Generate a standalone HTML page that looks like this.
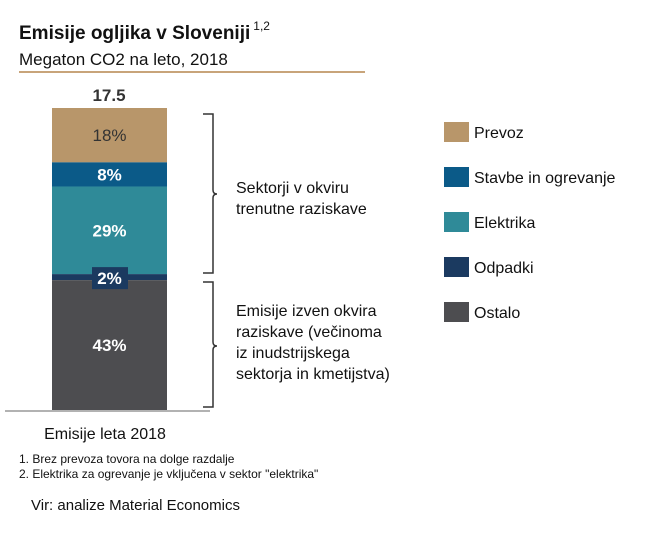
<!DOCTYPE html>
<html><head><meta charset="utf-8">
<style>
body{margin:0;background:#fff;width:650px;height:533px;overflow:hidden;font-family:"Liberation Sans",Arial,sans-serif;}
svg{display:block}
</style></head>
<body>
<svg id="chart" width="650" height="533" xmlns="http://www.w3.org/2000/svg" font-family="Liberation Sans, Arial, sans-serif">
  <text x="19" y="39" font-size="19" font-weight="bold" fill="#111">Emisije ogljika v Sloveniji<tspan font-size="12" font-weight="normal" dy="-9" dx="3">1,2</tspan></text>
  <text x="19" y="65" font-size="17" fill="#111">Megaton CO2 na leto, 2018</text>
  <line x1="19" y1="72" x2="365" y2="72" stroke="#c8a47a" stroke-width="2"/>
  <text x="109" y="101" font-size="17" font-weight="bold" fill="#333" text-anchor="middle">17.5</text>
  <g id="bars"></g>
  <g id="labels"></g>
  <line x1="5" y1="411" x2="210" y2="411" stroke="#999" stroke-width="1.5"/>
  <text x="105" y="439" font-size="16" fill="#111" text-anchor="middle">Emisije leta 2018</text>
  <path d="M203,114 H213 V190 Q213,194 217,194 Q213,194 213,198 V273 H203" fill="none" stroke="#333" stroke-width="1.5"/>
  <path d="M203,282 H213 V342 Q213,346 217,346 Q213,346 213,350 V407 H203" fill="none" stroke="#333" stroke-width="1.5"/>
  <text font-size="16" fill="#111"><tspan x="236" y="193">Sektorji v okviru</tspan><tspan x="236" y="214">trenutne raziskave</tspan></text>
  <text font-size="16" fill="#111"><tspan x="236" y="316">Emisije izven okvira</tspan><tspan x="236" y="337">raziskave (večinoma</tspan><tspan x="236" y="358">iz inudstrijskega</tspan><tspan x="236" y="379">sektorja in kmetijstva)</tspan></text>
  <g id="legend"></g>
  <text x="19" y="463" font-size="12" fill="#111">1. Brez prevoza tovora na dolge razdalje</text>
  <text x="19" y="478" font-size="12" fill="#111">2. Elektrika za ogrevanje je vključena v sektor "elektrika"</text>
  <text x="31" y="510" font-size="15" fill="#111">Vir: analize Material Economics</text>
</svg>
<script>
const categories = ["Prevoz","Stavbe in ogrevanje","Elektrika","Odpadki","Ostalo"];
const shares = [18, 8, 29, 2, 43];
const colors = ["#b8966a","#0b5a88","#2f8a98","#1b3a60","#4d4d50"];
const labelColors = ["#333","#fff","#fff","#fff","#fff"];
const NS="http://www.w3.org/2000/svg";
const barX=52, barW=115, barTop=108, barBottom=410;
const total=shares.reduce((a,b)=>a+b,0);
const yScale=v=>v/total*(barBottom-barTop);
const g=document.getElementById('bars');
const gl=document.getElementById('labels');
let y=barTop;
shares.forEach((v,i)=>{
  const h=yScale(v);
  const r=document.createElementNS(NS,'rect');
  r.setAttribute('x',barX);r.setAttribute('y',y);r.setAttribute('width',barW);r.setAttribute('height',h);r.setAttribute('fill',colors[i]);
  
  
  g.appendChild(r);
  const cy=y+h/2;
  if(h<12){
    const b=document.createElementNS(NS,'rect');
    b.setAttribute('x',barX+40);b.setAttribute('y',cy-10);b.setAttribute('width',36);b.setAttribute('height',22);b.setAttribute('fill',colors[i]);
    
    
    gl.appendChild(b);
  }
  const t=document.createElementNS(NS,'text');
  t.setAttribute('x',barX+barW/2);t.setAttribute('y',cy+(h<12?7:6));t.setAttribute('text-anchor','middle');
  t.setAttribute('font-size','17');t.setAttribute('fill',labelColors[i]);
  if(i>0)t.setAttribute('font-weight','bold');
  t.textContent=v+'%';
  
  
  gl.appendChild(t);
  y+=h;
});
const lg=document.getElementById('legend');
categories.forEach((c,i)=>{
  const ly=122+i*45;
  const r=document.createElementNS(NS,'rect');
  r.setAttribute('x',444);r.setAttribute('y',ly);r.setAttribute('width',25);r.setAttribute('height',20);r.setAttribute('fill',colors[i]);
  
  
  lg.appendChild(r);
  const t=document.createElementNS(NS,'text');
  t.setAttribute('x',474);t.setAttribute('y',ly+16);t.setAttribute('font-size','16');t.setAttribute('fill','#111');
  t.textContent=c;
  
  
  lg.appendChild(t);
});
</script>
</body></html>
